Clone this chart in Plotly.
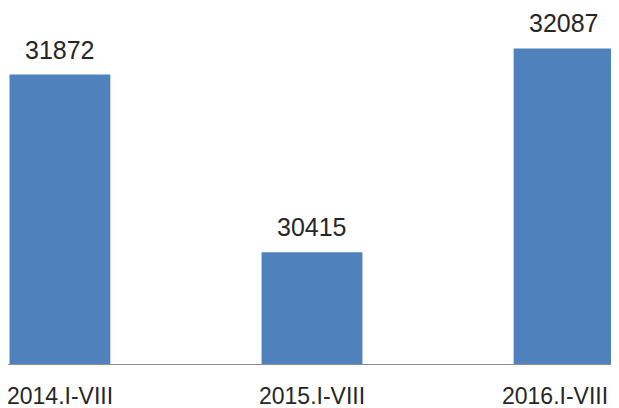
import plotly.graph_objects as go

categories = ["2014.I-VIII", "2015.I-VIII", "2016.I-VIII"]
values = [31872, 30415, 32087]

text_color = "#262626"
fig = go.Figure()
fig.add_trace(go.Bar(
    x=categories, y=values,
    marker=dict(color="#4F81BD", line=dict(width=0)),
    hoverinfo="skip",
))

# value labels above bars
for c, v in zip(categories, values):
    fig.add_annotation(
        x=c, y=v, text=str(v), showarrow=False,
        yanchor="bottom", yshift=9,
        font=dict(family="Liberation Sans", size=25, color=text_color),
    )

# category labels under the axis (last one kept inside the visible page)
for i, c in enumerate(categories):
    last = i == len(categories) - 1
    fig.add_annotation(
        x=c, y=0, yref="paper", text=c, showarrow=False,
        yanchor="top", yshift=-17,
        xanchor="right" if last else "center", xshift=46 if last else 0,
        font=dict(family="Liberation Sans", size=23, color=text_color),
    )

fig.update_layout(
    width=611, height=400,
    margin=dict(l=0, r=0, t=0, b=44),
    paper_bgcolor="white", plot_bgcolor="white",
    showlegend=False, bargap=0.6,
    xaxis=dict(
        range=[-0.206, 2.218], showgrid=False, zeroline=False,
        showline=True, linecolor="#8C8C8C", linewidth=1,
        ticks="", showticklabels=False,
    ),
    yaxis=dict(
        range=[29500, 32418], visible=False, showgrid=False, zeroline=False,
    ),
)

fig.write_html("out.html")
